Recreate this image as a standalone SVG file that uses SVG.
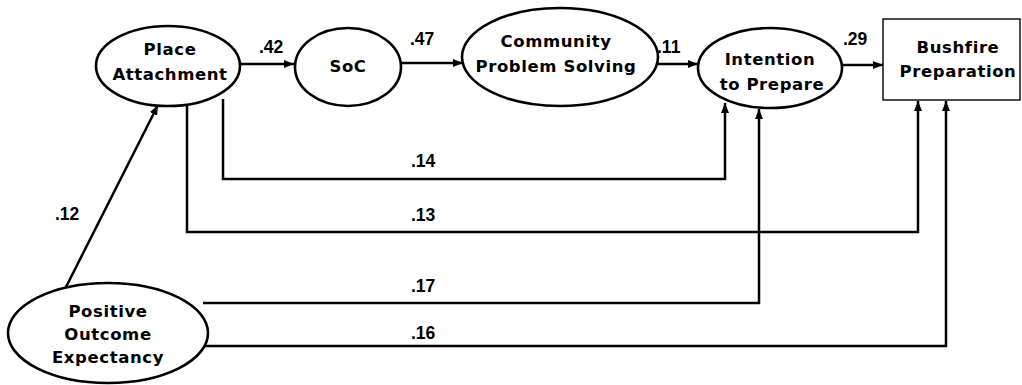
<svg xmlns="http://www.w3.org/2000/svg" width="1022" height="385" viewBox="0 0 1022 385">
  <style>
    .node { fill: #fff; stroke: #000; stroke-width: 2.6; }
    .box { fill: #fff; stroke: #000; stroke-width: 1.4; }
    .lbl { font-family: "DejaVu Sans", "Liberation Sans", sans-serif; font-weight: bold; font-size: 16.5px; letter-spacing: 0.6px; text-anchor: middle; fill: #000; }
    .coef { font-family: "Liberation Sans", Arial, sans-serif; font-weight: bold; font-size: 17.5px; fill: #000; }
    .edge { fill: none; stroke: #000; stroke-width: 2.5; marker-end: url(#arr); }
  </style>
  <defs>
    <marker id="arr" viewBox="0 0 10 8" refX="10" refY="4" markerWidth="10" markerHeight="8" markerUnits="userSpaceOnUse" orient="auto">
      <path d="M0,0 L10,4 L0,8 Z" fill="#000"/>
    </marker>
  </defs>
  <rect width="1022" height="385" fill="#fff"/>

  <!-- paths between constructs -->
  <g id="connectors">
    <line class="edge" x1="240" y1="64" x2="294" y2="64"/>
    <line class="edge" x1="401" y1="63" x2="463" y2="63"/>
    <line class="edge" x1="658" y1="64" x2="698" y2="64"/>
    <line class="edge" x1="842" y1="65" x2="883" y2="65"/>
    <line class="edge" x1="65" y1="289" x2="158" y2="105"/>
    <polyline class="edge" points="223,99 223,179 725,179 725,103"/>
    <polyline class="edge" points="187,105 187,232 918,232 918,101"/>
    <polyline class="edge" points="203,303 759,303 759,109"/>
    <polyline class="edge" points="200,346 946,346 946,101"/>
    <text class="coef" x="259" y="53">.42</text>
    <text class="coef" x="410" y="45">.47</text>
    <text class="coef" x="657" y="53">.11</text>
    <text class="coef" x="843" y="45">.29</text>
    <text class="coef" x="55" y="220">.12</text>
    <text class="coef" x="411" y="167">.14</text>
    <text class="coef" x="411" y="221">.13</text>
    <text class="coef" x="411" y="292">.17</text>
    <text class="coef" x="411" y="339">.16</text>
  </g>

  <g id="place-attachment">
    <ellipse class="node" cx="168" cy="66" rx="72" ry="40"/>
    <text class="lbl" x="170" y="55">Place</text>
    <text class="lbl" x="170" y="80">Attachment</text>
  </g>

  <g id="soc">
    <ellipse class="node" cx="348" cy="67" rx="53" ry="39"/>
    <text class="lbl" x="348" y="72">SoC</text>
  </g>

  <g id="community-problem-solving">
    <ellipse class="node" cx="560" cy="57" rx="98" ry="49"/>
    <text class="lbl" x="556" y="47">Community</text>
    <text class="lbl" x="556" y="72">Problem Solving</text>
  </g>

  <g id="intention-to-prepare">
    <ellipse class="node" cx="770" cy="68" rx="72" ry="40"/>
    <text class="lbl" x="770" y="65">Intention</text>
    <text class="lbl" x="772" y="90">to Prepare</text>
  </g>

  <g id="bushfire-preparation">
    <rect class="box" x="883" y="19" width="137" height="81"/>
    <text class="lbl" x="958" y="53">Bushfire</text>
    <text class="lbl" x="958" y="77">Preparation</text>
  </g>

  <g id="positive-outcome-expectancy">
    <ellipse class="node" cx="108" cy="333" rx="100" ry="50"/>
    <text class="lbl" x="108" y="317">Positive</text>
    <text class="lbl" x="108" y="340">Outcome</text>
    <text class="lbl" x="108" y="363">Expectancy</text>
  </g>
</svg>
